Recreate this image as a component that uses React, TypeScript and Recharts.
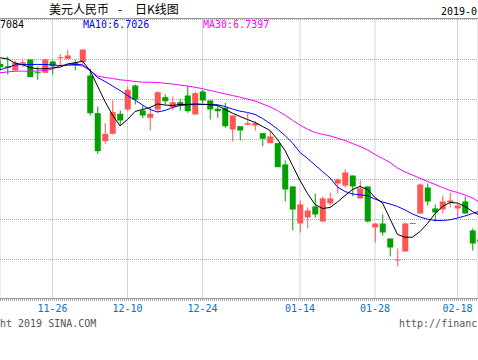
import { ComposedChart, Bar, Line, XAxis, YAxis, CartesianGrid } from 'recharts';

const RED = '#FF5555';
const GREEN = '#00A000';
const GRID = '#aaaaaa';

// trading days shown in the window (the chart is cut off on both sides)
const dates = [
  '11-15', '11-16', '11-19', '11-20', '11-21', '11-22', '11-23', '11-26', '11-27', '11-28',
  '11-29', '11-30', '12-03', '12-04', '12-05', '12-06', '12-07', '12-10', '12-11', '12-12',
  '12-13', '12-14', '12-17', '12-18', '12-19', '12-20', '12-21', '12-24', '12-25', '12-26',
  '12-27', '12-28', '01-02', '01-03', '01-04', '01-07', '01-08', '01-09', '01-10', '01-11',
  '01-14', '01-15', '01-16', '01-17', '01-18', '01-21', '01-22', '01-23', '01-24', '01-25',
  '01-28', '01-29', '01-30', '01-31', '02-01', '02-02', '02-11', '02-12', '02-13', '02-14',
  '02-15', '02-18', '02-19', '02-20', '02-21',
];

const tickDates = ['11-26', '12-10', '12-24', '01-14', '01-28', '02-18'];

const opens = [
  6.9446, 6.9413, 6.9363, 6.9446, 6.9500, 6.9341, 6.9334, 6.9475, 6.9516, 6.9508,
  6.9459, 6.9467, 6.9300, 6.8829, 6.8479, 6.8571, 6.8821, 6.8875, 6.9175, 6.8863,
  6.8771, 6.8875, 6.9029, 6.8904, 6.8966, 6.9050, 6.8813, 6.9100, 6.8988, 6.8884,
  6.8896, 6.8625, 6.8666, 6.8684, 6.8675, 6.8579, 6.8454, 6.8454, 6.8188, 6.7913,
  6.7450, 6.7525, 6.7663, 6.7475, 6.7700, 6.7950, 6.7925, 6.8050, 6.7763, 6.7913,
  6.7400, 6.7450, 6.7263, 6.6988, 6.7100, 6.7450, 6.7575, 6.7900, 6.7638, 6.7625,
  6.7713, 6.7638, 6.7725, 6.7363, 6.7250,
];

const closes = [
  6.9404, 6.9396, 6.9459, 6.9467, 6.9279, 6.9329, 6.9500, 6.9416, 6.9529, 6.9550,
  6.9425, 6.9625, 6.8829, 6.8354, 6.8571, 6.8841, 6.8738, 6.9121, 6.9000, 6.8800,
  6.8821, 6.9091, 6.8979, 6.8966, 6.8925, 6.8854, 6.9079, 6.8988, 6.8875, 6.8854,
  6.8666, 6.8800, 6.8613, 6.8704, 6.8704, 6.8509, 6.8538, 6.8154, 6.7875, 6.7625,
  6.7688, 6.7613, 6.7563, 6.7763, 6.7763, 6.8000, 6.8088, 6.7913, 6.7888, 6.7475,
  6.7450, 6.7338, 6.7150, 6.7000, 6.7450, 6.7450, 6.7938, 6.7725, 6.7588, 6.7725,
  6.7738, 6.7675, 6.7575, 6.7200, 6.7225,
];

const highs = [
  6.9488, 6.9538, 6.9488, 6.9496, 6.9500, 6.9413, 6.9508, 6.9488, 6.9571, 6.9613,
  6.9496, 6.9625, 6.9384, 6.8913, 6.8704, 6.8988, 6.8863, 6.9163, 6.9188, 6.8925,
  6.8904, 6.9100, 6.9063, 6.9038, 6.9009, 6.9175, 6.9100, 6.9121, 6.8988, 6.8938,
  6.8959, 6.8800, 6.8666, 6.8829, 6.8729, 6.8579, 6.8613, 6.8454, 6.8238, 6.7913,
  6.7738, 6.7650, 6.7825, 6.7788, 6.7838, 6.8013, 6.8125, 6.8050, 6.7988, 6.7913,
  6.7450, 6.7563, 6.7263, 6.7138, 6.7463, 6.7450, 6.7950, 6.7950, 6.7688, 6.7800,
  6.7838, 6.7700, 6.7788, 6.7388, 6.7288,
];

const lows = [
  6.9363, 6.9309, 6.9363, 6.9404, 6.9279, 6.9246, 6.9334, 6.9313, 6.9416, 6.9508,
  6.9363, 6.9446, 6.8800, 6.8321, 6.8446, 6.8563, 6.8675, 6.8854, 6.8938, 6.8766,
  6.8613, 6.8841, 6.8938, 6.8863, 6.8863, 6.8834, 6.8813, 6.8954, 6.8750, 6.8771,
  6.8646, 6.8475, 6.8488, 6.8675, 6.8613, 6.8416, 6.8454, 6.8154, 6.7725, 6.7363,
  6.7338, 6.7388, 6.7525, 6.7475, 6.7675, 6.7825, 6.7900, 6.7788, 6.7763, 6.7463,
  6.7213, 6.7300, 6.7038, 6.6913, 6.7100, 6.7450, 6.7575, 6.7675, 6.7475, 6.7575,
  6.7650, 6.7525, 6.7575, 6.7113, 6.7188,
];

const ma5 = [
  6.9521, 6.9508, 6.9456, 6.9434, 6.9400, 6.9384, 6.9384, 6.9396, 6.9404, 6.9444,
  6.9459, 6.9479, 6.9363, 6.9169, 6.8975, 6.8806, 6.8669, 6.8750, 6.8850, 6.8875,
  6.8900, 6.8944, 6.8931, 6.8925, 6.8938, 6.8938, 6.8944, 6.8941, 6.8935, 6.8925,
  6.8875, 6.8829, 6.8788, 6.8750, 6.8713, 6.8663, 6.8613, 6.8500, 6.8363, 6.8175,
  6.7988, 6.7825, 6.7688, 6.7638, 6.7650, 6.7719, 6.7800, 6.7875, 6.7913, 6.7875,
  6.7775, 6.7706, 6.7508, 6.7313, 6.7279, 6.7279, 6.7350, 6.7450, 6.7575, 6.7663,
  6.7713, 6.7706, 6.7663, 6.7600, 6.7550,
];

const ma10 = [
  6.9371, 6.9400, 6.9431, 6.9438, 6.9438, 6.9438, 6.9438, 6.9431, 6.9425, 6.9431,
  6.9438, 6.9434, 6.9366, 6.9275, 6.9225, 6.9169, 6.9113, 6.9050, 6.8994, 6.8931,
  6.8875, 6.8844, 6.8863, 6.8900, 6.8925, 6.8934, 6.8938, 6.8938, 6.8938, 6.8934,
  6.8913, 6.8881, 6.8854, 6.8838, 6.8813, 6.8763, 6.8700, 6.8631, 6.8550, 6.8456,
  6.8338, 6.8263, 6.8181, 6.8100, 6.8019, 6.7906, 6.7850, 6.7819, 6.7809, 6.7797,
  6.7756, 6.7719, 6.7694, 6.7663, 6.7619, 6.7569, 6.7531, 6.7504, 6.7488, 6.7488,
  6.7496, 6.7519, 6.7544, 6.7575, 6.7606,
];

const ma30 = [
  6.9334, 6.9344, 6.9354, 6.9354, 6.9354, 6.9356, 6.9363, 6.9381, 6.9423, 6.9431,
  6.9431, 6.9419, 6.9363, 6.9294, 6.9275, 6.9263, 6.9246, 6.9238, 6.9225, 6.9217,
  6.9216, 6.9213, 6.9203, 6.9193, 6.9180, 6.9168, 6.9153, 6.9135, 6.9114, 6.9091,
  6.9071, 6.9050, 6.9029, 6.9006, 6.8981, 6.8945, 6.8908, 6.8861, 6.8803, 6.8741,
  6.8680, 6.8628, 6.8588, 6.8565, 6.8545, 6.8516, 6.8488, 6.8450, 6.8413, 6.8369,
  6.8313, 6.8263, 6.8213, 6.8144, 6.8094, 6.8056, 6.8015, 6.7975, 6.7938, 6.7900,
  6.7863, 6.7838, 6.7806, 6.7769, 6.7713,
];

const priceTicks = [6.70, 6.75, 6.80, 6.85, 6.90, 6.95];

const data = dates.map((date, i) => ({
  i,
  date,
  open: opens[i],
  close: closes[i],
  high: highs[i],
  low: lows[i],
  ma5: ma5[i],
  ma10: ma10[i],
  ma30: ma30[i],
}));

const Candle = (props: any) => {
  const { x, y, width, height, payload } = props;
  const { open, close, high, low } = payload;
  const color = close >= open ? RED : GREEN;
  const cx = x + width / 2;
  if (high === low || !height) {
    return <line x1={x} x2={x + width} y1={y} y2={y} stroke={color} />;
  }
  const k = height / (high - low);
  const top = y + (high - Math.max(open, close)) * k;
  const bottom = y + (high - Math.min(open, close)) * k;
  return (
    <g>
      <line x1={cx} x2={cx} y1={y} y2={y + height} stroke={color} />
      <rect x={x} y={top} width={width} height={Math.max(bottom - top, 1)} fill={color} />
    </g>
  );
};

const mono = 'DejaVu Sans Mono, monospace';

export default function App() {
  return (
    <div style={{ position: 'absolute', left: 0, top: 0, width: 478, height: 360, overflow: 'hidden', background: '#fff' }}>
      <ComposedChart width={478} height={360} data={data} margin={{ top: 19.5, right: 0, bottom: 30.5, left: 0 }}>
        <CartesianGrid stroke={GRID} strokeDasharray="1 1" />
        <XAxis
          type="number"
          dataKey="i"
          domain={[0, 63.7333]}
          allowDataOverflow
          ticks={tickDates.map((d) => dates.indexOf(d))}
          interval={0}
          tickFormatter={(v) => dates[v]}
          axisLine={false}
          tickLine={false}
          tickSize={0}
          tickMargin={5}
          height={30}
          tick={{ fill: '#0a70c0', fontSize: 10, fontFamily: mono }}
        />
        <YAxis hide type="number" domain={[6.65, 7.0]} ticks={priceTicks} allowDataOverflow />
        <Bar dataKey={(d: any) => [d.low, d.high]} barSize={6} shape={Candle} isAnimationActive={false} />
        <Line type="linear" dataKey="ma30" stroke="#FF00FF" strokeWidth={1} dot={false} isAnimationActive={false} />
        <Line type="linear" dataKey="ma10" stroke="#0000FF" strokeWidth={1} dot={false} isAnimationActive={false} />
        <Line type="linear" dataKey="ma5" stroke="#000000" strokeWidth={1} dot={false} isAnimationActive={false} />
      </ComposedChart>

      <svg width={478} height={360} style={{ position: 'absolute', left: 0, top: 0, pointerEvents: 'none' }}>
        <line x1={0} x2={478} y1={18.5} y2={18.5} stroke="#999" />
        <line x1={0} x2={478} y1={298.5} y2={298.5} stroke="#999" />
        <line x1={0} x2={478} y1={300.5} y2={300.5} stroke={GRID} strokeDasharray="1 1" />
        <text y={14} fontSize={12} fontFamily="Noto Sans CJK SC" fill="#000">
          <tspan x={49}>美元人民币</tspan>
          <tspan x={118}>-</tspan>
          <tspan x={135}>日K线图</tspan>
        </text>
        <text x={441} y={15} fontSize={10} fontFamily={mono} fill="#000">2019-0</text>
        <text x={0} y={27.5} fontSize={10} fontFamily={mono} fill="#000">7084</text>
        <text x={83} y={27.5} fontSize={10} fontFamily={mono} fill="#0000FF">MA10:6.7026</text>
        <text x={203} y={27.5} fontSize={10} fontFamily={mono} fill="#FF00FF">MA30:6.7397</text>
        <text x={0} y={327} fontSize={10} fontFamily={mono} fill="#555">ht 2019 SINA.COM</text>
        <text x={399} y={327} fontSize={10} fontFamily={mono} fill="#555">http://financ</text>
      </svg>
    </div>
  );
}
